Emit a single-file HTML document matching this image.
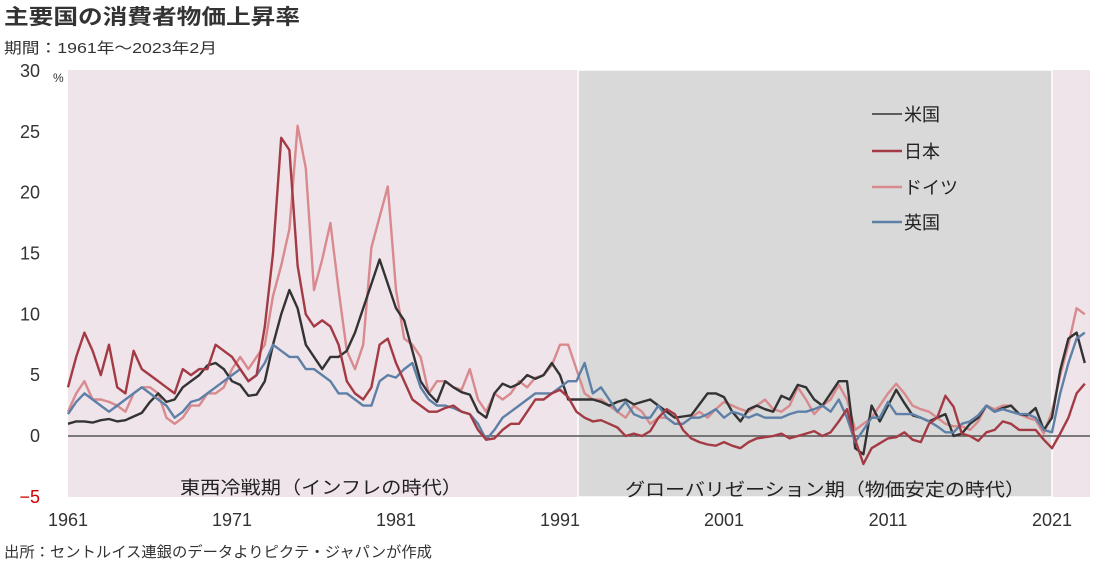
<!DOCTYPE html>
<html><head><meta charset="utf-8">
<style>
body{margin:0;background:#fff;width:1100px;height:570px;overflow:hidden;font-family:"Liberation Sans","Noto Sans CJK JP",sans-serif;}
svg{display:block}
</style></head>
<body>
<svg id="chart" width="1100" height="570">
<text x="4" y="24" font-size="21" font-weight="bold" fill="#333" textLength="296" lengthAdjust="spacingAndGlyphs">主要国の消費者物価上昇率</text>
<text x="4" y="53" font-size="15" fill="#333" textLength="213" lengthAdjust="spacingAndGlyphs">期間：1961年～2023年2月</text>
<text x="4" y="557" font-size="15" fill="#333" textLength="428" lengthAdjust="spacingAndGlyphs">出所：セントルイス連銀のデータよりピクテ・ジャパンが作成</text>
</svg>
<script>
const startYear = 1961, stepYear = 0.5;
const usValues = [1.0,1.2,1.2,1.1,1.3,1.4,1.2,1.3,1.6,1.9,2.8,3.5,2.8,3.0,4.0,4.5,5.0,5.8,6.0,5.5,4.5,4.2,3.3,3.4,4.5,7.5,10.0,12.0,10.5,7.5,6.5,5.5,6.5,6.5,7.0,8.5,10.5,12.5,14.5,12.5,10.5,9.5,7.0,4.5,3.5,2.8,4.5,4.0,3.6,3.4,2.0,1.5,3.5,4.3,4.0,4.3,5.0,4.7,5.0,6.0,5.0,3.0,3.0,3.0,3.0,2.8,2.5,2.8,3.0,2.6,2.8,3.0,2.5,2.0,1.5,1.6,1.7,2.6,3.5,3.5,3.2,2.0,1.2,2.2,2.5,2.2,2.0,3.3,3.0,4.2,4.0,3.0,2.5,3.5,4.5,4.5,-1.0,-1.5,2.5,1.2,2.5,3.8,2.7,1.7,1.5,1.2,1.5,1.8,0.0,0.2,1.0,1.5,2.5,2.0,2.3,2.5,1.8,1.7,2.3,0.5,1.5,5.4,8.0,8.5,6.0];
const jpValues = [4.0,6.5,8.5,7.0,5.0,7.5,4.0,3.5,7.0,5.5,5.0,4.5,4.0,3.5,5.5,5.0,5.5,5.5,7.5,7.0,6.5,5.5,4.5,5.0,9.0,15.0,24.5,23.5,14.0,10.0,9.0,9.5,9.0,7.5,4.5,3.5,3.0,4.0,7.5,8.0,6.0,4.5,3.0,2.5,2.0,2.0,2.3,2.5,2.0,1.8,0.5,-0.3,-0.2,0.5,1.0,1.0,2.0,3.0,3.0,3.5,3.8,3.2,2.0,1.5,1.2,1.3,1.0,0.7,0.0,0.2,0.0,0.4,1.5,2.2,1.8,0.5,-0.2,-0.5,-0.7,-0.8,-0.5,-0.8,-1.0,-0.5,-0.2,-0.1,0.0,0.2,-0.2,0.0,0.2,0.4,0.0,0.3,1.2,2.2,-0.3,-2.3,-1.0,-0.6,-0.2,-0.1,0.3,-0.3,-0.5,1.0,1.5,3.3,2.4,0.2,0.0,-0.4,0.3,0.5,1.2,1.0,0.5,0.5,0.5,-0.3,-1.0,0.2,1.5,3.5,4.3];
const deValues = [2.0,3.5,4.5,3.0,3.0,2.8,2.5,2.0,3.5,4.0,4.0,3.5,1.5,1.0,1.5,2.5,2.5,3.5,3.5,4.0,5.5,6.5,5.5,6.5,7.5,11.5,14.0,17.0,25.5,22.0,12.0,14.5,17.5,12.0,7.0,5.5,7.5,15.5,18.0,20.5,12.0,8.0,7.5,6.5,3.5,4.5,4.5,4.0,3.8,5.5,3.0,2.0,3.5,3.0,3.5,4.5,4.0,4.8,5.0,5.8,7.5,7.5,5.5,3.5,3.0,3.0,2.5,2.0,1.5,2.5,2.0,1.0,1.5,1.5,1.0,1.0,1.5,2.0,1.5,2.2,2.8,2.5,2.2,2.0,2.5,3.0,2.2,2.0,2.5,4.0,3.0,1.8,2.5,3.0,4.2,3.0,0.5,1.0,1.5,2.5,3.5,4.3,3.5,2.5,2.2,2.0,1.5,1.0,0.8,0.8,0.5,1.2,2.5,2.2,2.5,2.5,1.8,1.5,1.3,0.2,2.0,5.0,7.5,10.5,10.0];
const ukValues = [1.8,2.8,3.5,3.0,2.5,2.0,2.5,3.0,3.5,4.0,3.5,3.0,2.5,1.5,2.0,2.8,3.0,3.5,4.0,4.5,5.0,5.5,4.5,5.0,6.0,7.5,7.0,6.5,6.5,5.5,5.5,5.0,4.5,3.5,3.5,3.0,2.5,2.5,4.5,5.0,4.8,5.5,6.0,4.0,3.0,2.5,2.5,2.3,2.0,1.8,1.0,-0.3,0.5,1.5,2.0,2.5,3.0,3.5,3.5,3.5,4.0,4.5,4.5,6.0,3.5,4.0,3.0,2.0,2.8,1.8,1.5,1.5,2.5,1.5,1.0,1.0,1.5,1.5,1.8,2.2,1.5,2.0,1.8,1.5,1.8,1.5,1.5,1.5,1.8,2.0,2.0,2.2,2.5,2.0,3.0,1.5,-0.5,0.5,1.5,1.5,2.8,1.8,1.8,1.8,1.5,1.2,0.8,0.3,0.3,1.0,1.2,1.7,2.5,2.0,2.2,2.0,1.8,1.8,1.5,0.5,0.3,3.5,6.0,8.0,8.5];
const yTicks = [-5,0,5,10,15,20,25,30];
const xTickYears = [1961,1971,1981,1991,2001,2011,2021];
const seriesNames = ["米国","日本","ドイツ","英国"];

const NS="http://www.w3.org/2000/svg";
const svg=document.getElementById('chart');
const X0=68,X1=1090,Y0=497,Y1=70;
const pxPerYear=16.4;
function xs(t){return X0+(t-1961)*pxPerYear;}
function ys(v){return 436-v*12.17;}
function mk(tag,attrs,parent){const e=document.createElementNS(NS,tag);for(const k in attrs)e.setAttribute(k,attrs[k]);(parent||svg).appendChild(e);return e;}

const bg=mk('rect',{x:X0,y:Y1,width:X1-X0,height:Y0-Y1,fill:'#efe4ea'});


const gray=mk('rect',{x:xs(1992.1),y:Y1,width:xs(2021.0)-xs(1992.1),height:Y0-Y1,fill:'#d9d9d9',stroke:'#fff','stroke-width':1.5});



yTicks.forEach(v=>{
  const t=mk('text',{x:40,y:ys(v)+6,'font-size':18,'text-anchor':'end',fill:v<0?'#c00':'#333'});
  t.textContent=v<0?'−'+Math.abs(v):String(v);
  
  
});
const pct=mk('text',{x:53,y:82,'font-size':12,fill:'#333'});pct.textContent='%';


xTickYears.forEach(yr=>{
  const t=mk('text',{x:xs(yr),y:526,'font-size':18,'text-anchor':'middle',fill:'#333'});
  t.textContent=String(yr);
  
  
});

const zero=mk('line',{x1:X0,x2:X1,y1:ys(0),y2:ys(0),stroke:'#555','stroke-width':1.5});



const colors=['#333333','#a33a44','#d88a8e','#5f80a6'];
const data=[usValues,jpValues,deValues,ukValues];
const keys=['us','japan','germany','uk'];
const order=[2,0,3,1];
order.forEach(i=>{
  const pts=data[i].map((v,k)=>xs(startYear+k*stepYear).toFixed(1)+','+ys(v).toFixed(1)).join(' ');
  const p=mk('polyline',{points:pts,fill:'none',stroke:colors[i],'stroke-width':2.4,'stroke-linejoin':'round'});
  
  
});

const p1=mk('text',{x:180,y:494,'font-size':18,fill:'#222',textLength:282,lengthAdjust:'spacingAndGlyphs'});p1.textContent='東西冷戦期（インフレの時代）';


const p2=mk('text',{x:625,y:496,'font-size':18,fill:'#222',textLength:400,lengthAdjust:'spacingAndGlyphs'});p2.textContent='グローバリゼーション期（物価安定の時代）';



const legY=[114,151,187,222];
seriesNames.forEach((n,i)=>{
  const g=mk('g',{});
  
  
  mk('line',{x1:872,x2:902,y1:legY[i],y2:legY[i],stroke:colors[i],'stroke-width':i===0?1.5:2.5},g);
  const t=mk('text',{x:904,y:legY[i]+7,'font-size':18,fill:'#222'},g);t.textContent=n;
});
</script>
</body></html>
